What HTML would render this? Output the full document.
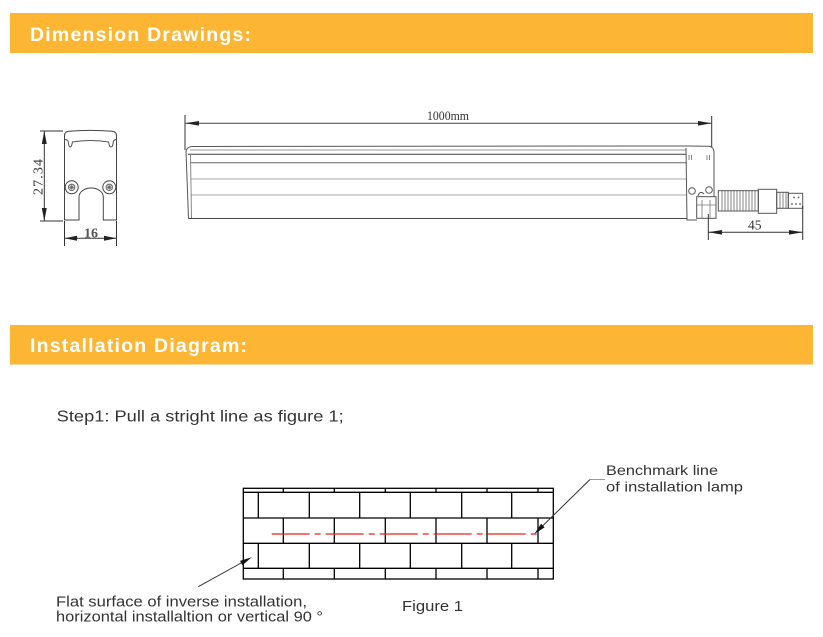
<!DOCTYPE html>
<html><head><meta charset="utf-8">
<style>
html,body{margin:0;padding:0;background:#fff;}
svg{display:block;}
</style></head>
<body>
<svg width="823" height="637" viewBox="0 0 823 637" xmlns="http://www.w3.org/2000/svg">
<rect width="823" height="637" fill="#fff"/>
<!-- Header bars -->
<rect x="10" y="13" width="803" height="40" fill="#FCB634"/>
<text x="30" y="41" font-family="Liberation Sans, sans-serif" font-weight="bold" font-size="19.5" fill="#fff" textLength="221" lengthAdjust="spacing">Dimension Drawings:</text>
<rect x="10" y="325" width="803" height="39.5" fill="#FCB634"/>
<text x="30" y="352" font-family="Liberation Sans, sans-serif" font-weight="bold" font-size="19.5" fill="#fff" textLength="217" lengthAdjust="spacing">Installation Diagram:</text>

<!-- End cap view -->
<g fill="none" stroke="#444" stroke-width="1">
  <path d="M64.5,220 L64.5,136 Q64.5,131.5 69,131.3 Q90.5,129.5 112,131.3 Q116.5,131.5 116.5,136 L116.5,220 L103.3,220 L103.3,197 A12.15,9 0 0 0 79,197 L79,220 Z"/>
  <path d="M64.5,139.5 Q67,139.5 68,141 L69,146 Q70,147.8 71.5,146 L72.5,142 Q90.5,139 108.5,142 L109.5,146 Q111,147.8 112.5,146 L113.5,141 Q114.5,139.5 116.5,139.5" stroke="#555"/>
  <circle cx="71.7" cy="187.3" r="6.5"/>
  <circle cx="71.7" cy="187.3" r="3.2" stroke="#666"/>
  <path d="M69.2,187.3 H74.2 M71.7,184.8 V189.8 M69.9,185.5 L73.5,189.1 M73.5,185.5 L69.9,189.1" stroke="#666" stroke-width="0.8"/>
  <circle cx="109.3" cy="187.3" r="6.5"/>
  <circle cx="109.3" cy="187.3" r="3.2" stroke="#666"/>
  <path d="M106.8,187.3 H111.8 M109.3,184.8 V189.8 M107.5,185.5 L111.1,189.1 M111.1,185.5 L107.5,189.1" stroke="#666" stroke-width="0.8"/>
  <!-- vertical dim -->
  <line x1="44.3" y1="131" x2="44.3" y2="221" stroke="#333"/>
  <line x1="40" y1="131" x2="63" y2="131" stroke="#333"/>
  <line x1="40" y1="221" x2="63" y2="221" stroke="#333"/>
  <!-- horizontal dim -->
  <line x1="64.5" y1="221" x2="64.5" y2="246" stroke="#333"/>
  <line x1="116.5" y1="221" x2="116.5" y2="246" stroke="#333"/>
  <line x1="64.5" y1="238.3" x2="116.5" y2="238.3" stroke="#333"/>
</g>
<g fill="#222">
  <polygon points="44.3,131 41.8,144 46.8,144"/>
  <polygon points="44.3,221 41.8,208 46.8,208"/>
  <polygon points="64.5,238.3 77,235.8 77,240.8"/>
  <polygon points="116.5,238.3 104,235.8 104,240.8"/>
</g>
<text transform="translate(42.5,177) rotate(-90)" text-anchor="middle" font-family="Liberation Serif, serif" font-size="14" fill="#333" textLength="36" lengthAdjust="spacing">27.34</text>
<text x="91" y="237.5" text-anchor="middle" font-family="Liberation Serif, serif" font-weight="bold" font-size="14" fill="#555">16</text>

<!-- Main lamp -->
<g fill="none" stroke-width="1">
  <!-- dimension 1000mm -->
  <line x1="185" y1="115" x2="185" y2="150" stroke="#333"/>
  <line x1="711.7" y1="116" x2="711.7" y2="147" stroke="#333"/>
  <line x1="185" y1="123.3" x2="711.7" y2="123.3" stroke="#444"/>
  <!-- body -->
  <path d="M186,151 Q187,147 192,146.5 L686,146 L709,146.3 Q714,147 714,152" stroke="#555"/>
  <line x1="190" y1="150" x2="686" y2="150" stroke="#999"/>
  <line x1="188" y1="154.3" x2="686" y2="154.3" stroke="#444"/>
  <line x1="190" y1="162.7" x2="686" y2="162.7" stroke="#666"/>
  <line x1="191" y1="179" x2="686" y2="179" stroke="#aaa"/>
  <line x1="191" y1="195" x2="686" y2="195" stroke="#aaa"/>
  <line x1="188.5" y1="218.5" x2="687" y2="218.5" stroke="#444"/>
  <path d="M186,151 L188.5,218.5" stroke="#555"/>
  <path d="M190.5,155 L191.5,218" stroke="#888"/>
  <!-- end cap -->
  <path d="M686,148 L687,220 L697,220" stroke="#555"/>
  <path d="M714,152 L714,197" stroke="#555"/>
  <path d="M689,155 L689,160 M691.5,155 L691.5,160 M707,155 L707,160 M709.5,155 L709.5,160" stroke="#666" stroke-width="0.8"/>
  <circle cx="692" cy="191" r="3.3" stroke="#555"/>
  <circle cx="709" cy="190" r="3.3" stroke="#555"/>
  <path d="M698,196 Q700,190 704,194" stroke="#555"/>
  <rect x="696.7" y="196.7" width="19.3" height="21.6" stroke="#555"/>
  <path d="M702,200 V218 M710,200 V218 M696.7,205 H716" stroke="#777" stroke-width="0.8"/>
  <!-- connector -->
  <rect x="718.3" y="190.7" width="40" height="20.3" stroke="#555"/>
  <path d="M722,190.7 V211 M725,190.7 V211 M728,190.7 V211 M731,190.7 V211 M734,190.7 V211 M737,190.7 V211 M740,190.7 V211 M743,190.7 V211 M746,190.7 V211 M749,190.7 V211 M752,190.7 V211 M755,190.7 V211" stroke="#666" stroke-width="0.8"/>
  <rect x="758.3" y="189.3" width="18.4" height="24" stroke="#555"/>
  <rect x="776.7" y="192.3" width="11.6" height="16" stroke="#555"/>
  <path d="M780,192.3 V208.3 M783,192.3 V208.3 M786,192.3 V208.3" stroke="#666" stroke-width="0.8"/>
  <rect x="788.3" y="193.3" width="14.4" height="15" stroke="#555"/>
  <!-- dimension 45 -->
  <line x1="708.3" y1="214" x2="708.3" y2="240" stroke="#333"/>
  <line x1="802.7" y1="206" x2="802.7" y2="240" stroke="#333"/>
  <line x1="708.3" y1="232.3" x2="802.7" y2="232.3" stroke="#333"/>
</g>
<g fill="#555">
  <circle cx="794" cy="197.5" r="0.9"/><circle cx="798.5" cy="197.5" r="0.9"/>
  <circle cx="792" cy="204" r="0.9"/><circle cx="796" cy="204" r="0.9"/><circle cx="800" cy="204" r="0.9"/>
</g>
<g fill="#222">
  <polygon points="185,123.3 199,121 199,125.6"/>
  <polygon points="711.7,123.3 698,121 698,125.6"/>
  <polygon points="708.3,232.3 722,230 722,234.6"/>
  <polygon points="802.7,232.3 789,230 789,234.6"/>
</g>
<text x="427" y="120" font-family="Liberation Serif, serif" font-size="13" fill="#333" textLength="42" lengthAdjust="spacingAndGlyphs">1000mm</text>
<text x="748" y="229.3" font-family="Liberation Serif, serif" font-size="13.5" fill="#333">45</text>

<!-- Step text -->
<text x="56.7" y="421.7" font-family="Liberation Sans, sans-serif" font-size="16" fill="#333" textLength="287" lengthAdjust="spacingAndGlyphs">Step1: Pull a stright line as figure 1;</text>

<!-- Wall grid -->
<g stroke="#000" stroke-width="1.3" fill="none">
  <rect x="243.3" y="488.3" width="310" height="90.7"/>
  <line x1="243.3" y1="492.3" x2="553.3" y2="492.3"/>
  <line x1="243.3" y1="518" x2="553.3" y2="518"/>
  <line x1="243.3" y1="543.3" x2="553.3" y2="543.3"/>
  <line x1="243.3" y1="568.3" x2="553.3" y2="568.3"/>
  <path d="M283.3,488.3V492.3 M334.3,488.3V492.3 M385.3,488.3V492.3 M436,488.3V492.3 M487,488.3V492.3 M538,488.3V492.3"/>
  <path d="M283.3,518V543.3 M334.3,518V543.3 M385.3,518V543.3 M436,518V543.3 M487,518V543.3 M538,518V543.3"/>
  <path d="M283.3,568.3V579 M334.3,568.3V579 M385.3,568.3V579 M436,568.3V579 M487,568.3V579 M538,568.3V579"/>
  <path d="M258.3,492.3V518 M309.3,492.3V518 M359.7,492.3V518 M410.3,492.3V518 M461.7,492.3V518 M511.7,492.3V518"/>
  <path d="M258.3,543.3V568.3 M309.3,543.3V568.3 M359.7,543.3V568.3 M410.3,543.3V568.3 M461.7,543.3V568.3 M511.7,543.3V568.3"/>
</g>
<line x1="271.7" y1="534" x2="541.7" y2="534" stroke="#ee2222" stroke-width="1.3" stroke-dasharray="38 5 6 5"/>

<!-- Leaders -->
<line x1="590" y1="479.5" x2="605" y2="479.5" stroke="#999" stroke-width="1"/>
<line x1="590" y1="479.5" x2="541" y2="527.5" stroke="#333" stroke-width="1"/>
<polygon points="534.3,534 544.6,527.4 541.1,523.8" fill="#111"/>
<line x1="198.3" y1="586.7" x2="242" y2="562.5" stroke="#333" stroke-width="1"/>
<polygon points="251.7,557.3 242.4,565.3 240,560.9" fill="#111"/>

<!-- Labels -->
<g font-family="Liberation Sans, sans-serif" fill="#333">
  <text x="606" y="475" font-size="14" textLength="112" lengthAdjust="spacingAndGlyphs">Benchmark line</text>
  <text x="606" y="491.7" font-size="14" textLength="137" lengthAdjust="spacingAndGlyphs">of installation lamp</text>
  <text x="56" y="606.5" font-size="15" textLength="251" lengthAdjust="spacingAndGlyphs">Flat surface of inverse installation,</text>
  <text x="56" y="621.7" font-size="15" textLength="267" lengthAdjust="spacingAndGlyphs">horizontal installaltion or vertical 90 °</text>
  <text x="402" y="611" font-size="15" textLength="61" lengthAdjust="spacingAndGlyphs">Figure 1</text>
</g>
</svg>
</body></html>
